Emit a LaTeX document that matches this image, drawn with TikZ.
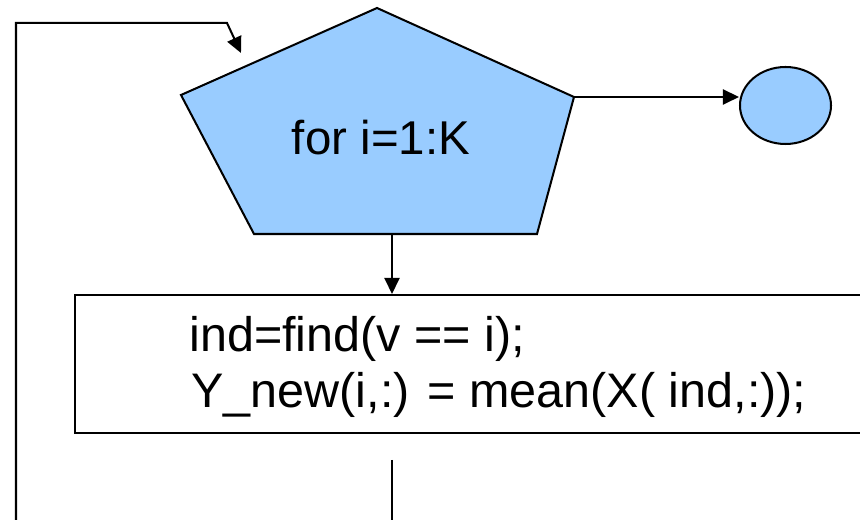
\documentclass[tikz,border=0pt]{standalone}
\usepackage{fontspec}
\setmainfont{Liberation Sans}
\usetikzlibrary{arrows.meta,positioning,calc,shapes.geometric}
\definecolor{loopfill}{HTML}{99CCFF}

\begin{document}
\begin{tikzpicture}[
  every node/.style={font=\fontsize{27}{32}\selectfont},
  flow/.style={line width=1.15pt, -{Triangle[length=0.32cm, width=0.3cm]}},
  plain/.style={line width=1.15pt},
  codebox/.style={draw, line width=1.15pt, fill=white, rectangle, inner sep=0pt,
    anchor=north west, minimum width=16.6cm, minimum height=2.76cm},
  stopnode/.style={draw, line width=1.15pt, fill=loopfill, ellipse, inner sep=0pt,
    minimum width=1.82cm, minimum height=1.54cm},
  codeline/.style={anchor=base west, inner sep=0pt, font=\fontsize{27.6}{32}\selectfont}
]
  % page = 860 x 520 px, 1px = 0.2mm
  \useasboundingbox (0,0) rectangle (17.2,10.4);
  \clip (0,0) rectangle (17.2,10.4);

  % loop header (pentagon)
  \draw[plain, fill=loopfill]
    (7.54,10.24) coordinate (top) -- (3.62,8.50) coordinate (ul)
    -- (5.08,5.72) coordinate (bl) -- (10.74,5.72) coordinate (br)
    -- (11.48,8.46) coordinate (ur) -- cycle;
  \coordinate (bm) at (7.84,5.72);
  \node[anchor=base, inner sep=0pt] (header) at (7.62,7.30) {for i=1:K};

  % exit of the loop
  \node[stopnode] (done) at (15.71,8.29) {};
  \draw[flow] (ur) -- (ur -| done.west);

  % loop body
  \node[codebox] (body) at (1.48,4.52) {};
  \node[codeline] (line1) at (3.78,3.36) {ind=find(v == i);};
  \node[codeline] (line2) at (3.82,2.24) {Y\_new(i,:) = mean(X( ind,:));};
  \draw[flow] (bm) -- (bm |- body.north);

  % back to the header
  \coordinate (tail) at (7.84,1.20);
  \coordinate (tailend) at (7.84,-0.1);
  \draw[line width=0.9pt] (tail) -- (tailend);

  \coordinate (loopstart) at (0.32,-0.1);
  \coordinate (loopin) at (4.82,9.34);
  \draw[flow] (loopstart) |- (4.54,9.94) -- (loopin);
\end{tikzpicture}
\end{document}
